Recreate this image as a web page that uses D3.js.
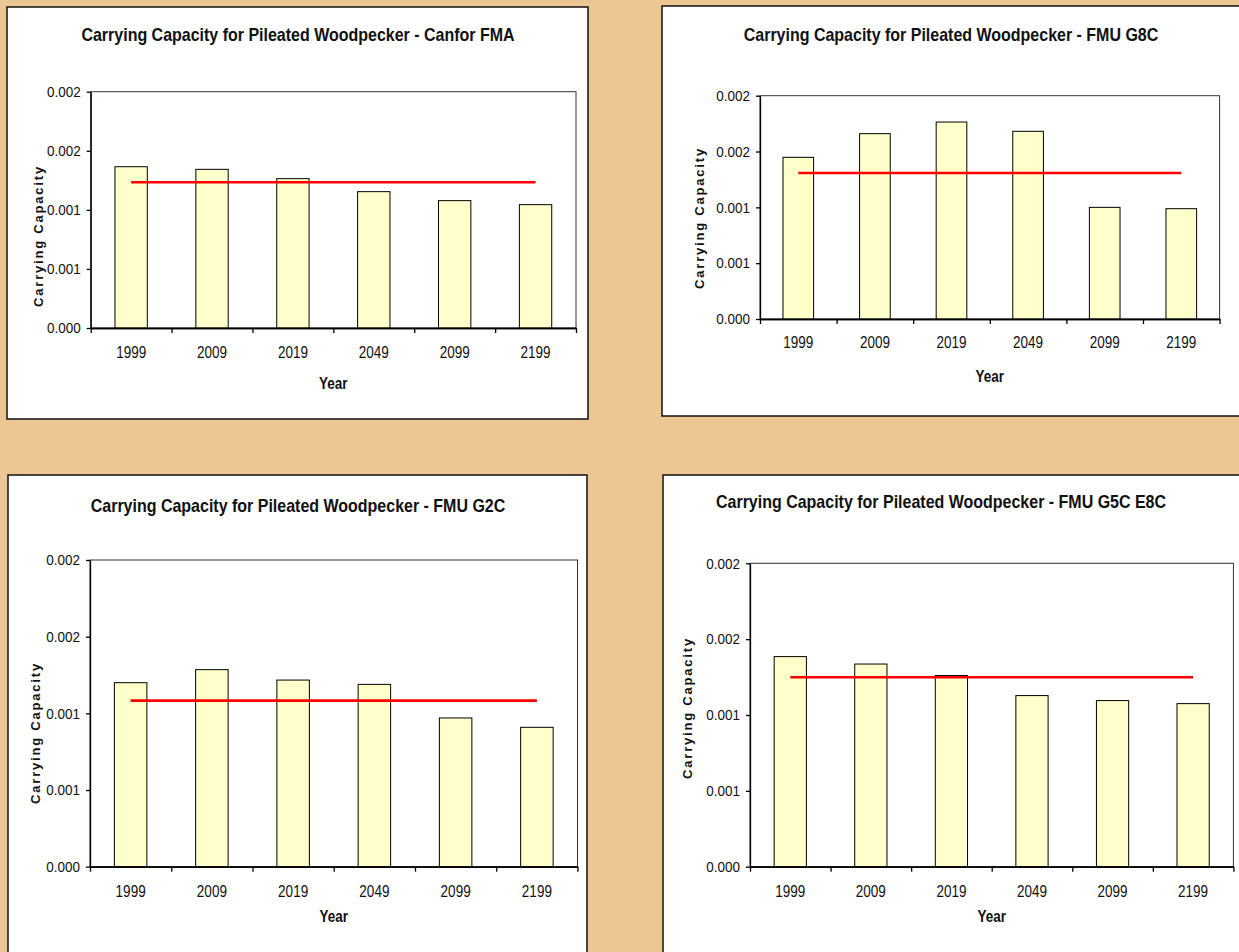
<!DOCTYPE html>
<html>
<head>
<meta charset="utf-8">
<script src="https://d3js.org/d3.v7.min.js"></script>
<title>Carrying Capacity for Pileated Woodpecker</title>
<style>
body {
  margin: 0;
  background-color: #ECC794;
  font-family: "Liberation Sans", Arial, sans-serif;
}
svg { display: block; }
.panel-box { fill: #fff; stroke: #111; stroke-width: 1.5; }
.plot-frame { fill: none; stroke: #333; stroke-width: 1; }
.axis path, .axis line { stroke: #000; stroke-width: 1.3; }
.axis text { font-family: "Liberation Sans", Arial, sans-serif; fill: #111; }
.bar { fill: #FFFFCC; stroke: #000; stroke-width: 1; }
.threshold { stroke: #FF0000; stroke-width: 2.6; fill: none; }
.title { font-weight: bold; font-size: 16px; fill: #111; }
.ylabel { font-weight: bold; font-size: 13px; letter-spacing: 1.8px; fill: #111; }
.xlabel { font-weight: bold; font-size: 13.5px; fill: #111; }
</style>
</head>
<body>
<svg></svg>
<script>
// categories and values
const years = ["1999", "2009", "2019", "2049", "2099", "2199"];

const canforFMA = [0.001365, 0.001343, 0.001264, 0.001154, 0.001078, 0.001044];
const canforFMALine = 0.001233;

const fmuG8C = [0.001448, 0.00166, 0.001764, 0.001681, 0.001000, 0.000988];
const fmuG8CLine = 0.001308;

const fmuG2C = [0.0012, 0.001285, 0.001217, 0.001189, 0.00097, 0.000909];
const fmuG2CLine = 0.001083;

const fmuG5CE8C = [0.001385, 0.001336, 0.00126, 0.001128, 0.001095, 0.001075];
const fmuG5CE8CLine = 0.001249;

const yTickValues = [0, 0.0005, 0.001, 0.0015, 0.002];
const yTickLabels = ["0.000", "0.001", "0.001", "0.002", "0.002"];

const titles = [
  "Carrying Capacity for Pileated Woodpecker - Canfor FMA",
  "Carrying Capacity for Pileated Woodpecker - FMU G8C",
  "Carrying Capacity for Pileated Woodpecker - FMU G2C",
  "Carrying Capacity for Pileated Woodpecker - FMU G5C E8C"
];

// layout of the four panels (page pixels)
const panels = [
  { title: titles[0], values: canforFMA, line: canforFMALine,
    box: [7, 7, 581, 412], plot: [90.7, 91.7, 576, 328],
    titleX: 298, titleY: 41, yLabelX: 43, yLabelY: 236, tickY: 358, yearY: 389 },
  { title: titles[1], values: fmuG8C, line: fmuG8CLine,
    box: [662, 6, 580, 410], plot: [760, 95.7, 1219.6, 319],
    titleX: 951, titleY: 40.7, yLabelX: 704, yLabelY: 218, tickY: 348.3, yearY: 381.7 },
  { title: titles[2], values: fmuG2C, line: fmuG2CLine,
    box: [8, 475, 579, 500], plot: [90, 560, 577.5, 866.7],
    titleX: 298, titleY: 511.7, yLabelX: 40, yLabelY: 733, tickY: 896.7, yearY: 921.7 },
  { title: titles[3], values: fmuG5CE8C, line: fmuG5CE8CLine,
    box: [663, 475, 600, 500], plot: [750, 563.3, 1233.4, 866.7],
    titleX: 941, titleY: 508.3, yLabelX: 692, yLabelY: 708, tickY: 896.7, yearY: 921.7 }
];

const svg = d3.select("svg").attr("width", 1239).attr("height", 952);

panels.forEach(p => {
  const g = svg.append("g");
  const [left, top, right, bottom] = p.plot;

  g.append("rect").attr("class", "panel-box")
    .attr("x", p.box[0]).attr("y", p.box[1])
    .attr("width", p.box[2]).attr("height", p.box[3]);

  const x = d3.scaleBand().domain(years).range([left, right]).padding(0);
  const y = d3.scaleLinear().domain([0, 0.002]).range([bottom, top]);
  const barW = x.bandwidth() * 0.4;

  g.append("rect").attr("class", "plot-frame")
    .attr("x", left).attr("y", top)
    .attr("width", right - left).attr("height", bottom - top);

  g.selectAll(".bar")
    .data(p.values)
    .enter().append("rect")
    .attr("class", "bar")
    .attr("x", (d, i) => x(years[i]) + (x.bandwidth() - barW) / 2)
    .attr("y", d => y(d))
    .attr("width", barW)
    .attr("height", d => bottom - y(d));

  // threshold line from first to last category centre
  g.append("line").attr("class", "threshold")
    .attr("x1", x(years[0]) + x.bandwidth() / 2)
    .attr("x2", x(years[years.length - 1]) + x.bandwidth() / 2)
    .attr("y1", y(p.line)).attr("y2", y(p.line));

  // y axis
  const yAxis = g.append("g").attr("class", "axis")
    .attr("transform", "translate(" + left + ",0)")
    .call(d3.axisLeft(y).tickValues(yTickValues)
      .tickFormat((d, i) => yTickLabels[i])
      .tickSize(4).tickSizeOuter(0).tickPadding(6));
  yAxis.selectAll("text")
    .style("font-size", "13.5px")
    .attr("transform", "scale(1,1.1)");

  // x axis: category labels, boundary ticks drawn separately
  const xAxis = g.append("g").attr("class", "axis")
    .attr("transform", "translate(0," + bottom + ")")
    .call(d3.axisBottom(x).tickSize(0).tickSizeOuter(0));
  xAxis.selectAll("text")
    .style("font-size", "13.5px")
    .attr("y", 0).attr("dy", null)
    .attr("transform", "translate(0," + (p.tickY - bottom) + ") scale(1,1.2)");

  const edges = d3.scaleLinear().domain([0, years.length]).range([left, right]);
  g.append("g").attr("class", "axis")
    .attr("transform", "translate(0," + bottom + ")")
    .call(d3.axisBottom(edges).ticks(years.length).tickFormat("")
      .tickSize(5).tickSizeOuter(0));

  // titles
  g.append("text").attr("class", "title")
    .attr("text-anchor", "middle")
    .attr("transform", "translate(" + p.titleX + "," + p.titleY + ") scale(1,1.2)")
    .text(p.title);

  g.append("text").attr("class", "xlabel")
    .attr("text-anchor", "middle")
    .attr("transform", "translate(" + (left + right) / 2 + "," + p.yearY + ") scale(1,1.25)")
    .text("Year");

  g.append("text").attr("class", "ylabel")
    .attr("text-anchor", "middle")
    .attr("transform", "translate(" + p.yLabelX + "," + p.yLabelY + ") rotate(-90)")
    .text("Carrying Capacity");
});
</script>
</body>
</html>
